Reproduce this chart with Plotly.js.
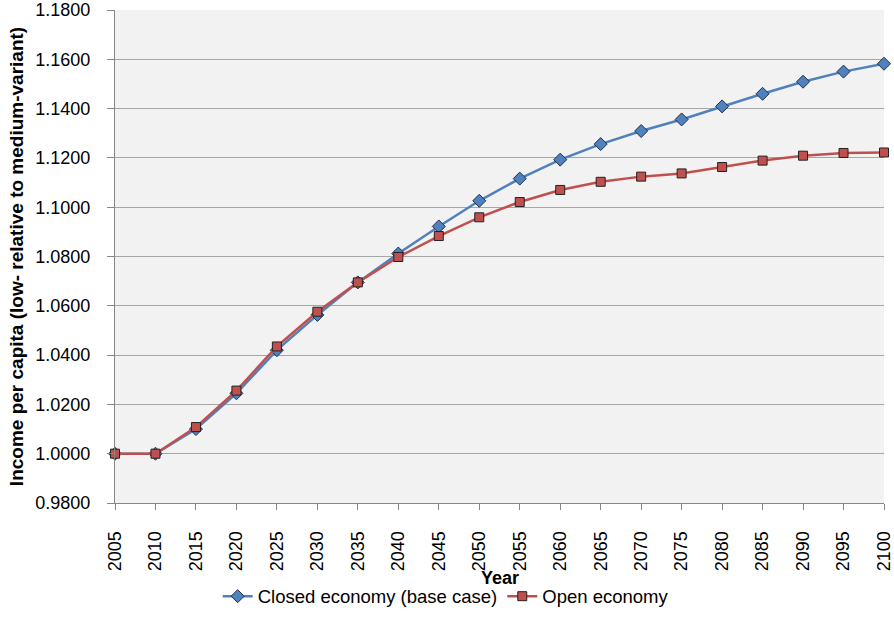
<!DOCTYPE html>
<html>
<head>
<meta charset="utf-8">
<script src="https://cdn.plot.ly/plotly-3.0.1.min.js"></script>
<style>html,body{margin:0;padding:0;background:#fff;}#chart{width:894px;height:638px;}</style>
</head>
<body>
<div id="chart"></div>
<script>
const years = [2005,2010,2015,2020,2025,2030,2035,2040,2045,2050,2055,2060,2065,2070,2075,2080,2085,2090,2095,2100];
const closedEconomy = [1.0000,1.0000,1.0100,1.0245,1.0420,1.0563,1.0695,1.0812,1.0922,1.1026,1.1116,1.1193,1.1256,1.1309,1.1356,1.1409,1.1460,1.1509,1.1550,1.1582];
const openEconomy = [1.0000,1.0000,1.0108,1.0256,1.0435,1.0576,1.0695,1.0798,1.0883,1.0959,1.1021,1.1070,1.1103,1.1124,1.1137,1.1163,1.1189,1.1209,1.1220,1.1222];
const yTicks = [0.98,1.00,1.02,1.04,1.06,1.08,1.10,1.12,1.14,1.16,1.18];

const font = "Liberation Sans, Arial, sans-serif";
const traces = [
  {x: years, y: closedEconomy, name: 'Closed economy (base case)', type: 'scatter', mode: 'lines+markers', cliponaxis: false,
   line: {color: '#4f81bd', width: 2.5}, marker: {symbol: 'diamond', size: 10, color: '#4f81bd', line: {color: '#1f2f4f', width: 1}}},
  {x: years, y: openEconomy, name: 'Open economy', type: 'scatter', mode: 'lines+markers', cliponaxis: false,
   line: {color: '#c0504d', width: 2.5}, marker: {symbol: 'square', size: 9, color: '#c0504d', line: {color: '#222', width: 1}}}
];
const layout = {
  width: 894, height: 638,
  margin: {l: 115, r: 10, t: 10, b: 135},
  paper_bgcolor: '#ffffff', plot_bgcolor: '#f2f2f2',
  showlegend: true,
  legend: {orientation: 'h', x: 0.43, xanchor: 'center', y: -0.19, yanchor: 'middle', font: {family: font, size: 18.5, color: '#000'}, traceorder: 'normal', itemwidth: 30},
  xaxis: {range: [2005, 2100], tickvals: years, ticktext: years.map(String), tickangle: -90,
    showgrid: false, zeroline: false, showline: true, linecolor: '#868686', linewidth: 1,
    ticks: 'outside', ticklen: 6, tickcolor: '#868686', ticklabelstandoff: 14, tickfont: {family: font, size: 18, color: '#000'}},
  yaxis: {range: [0.98, 1.18], tickvals: yTicks, tickformat: '.4f',
    showgrid: true, gridcolor: '#a6a6a6', gridwidth: 1, zeroline: false, showline: true, linecolor: '#868686', linewidth: 1,
    ticks: 'outside', ticklen: 7, tickcolor: '#868686', ticklabelstandoff: 13, tickfont: {family: font, size: 18, color: '#000'},
    title: {text: '<b>Income per capita (low- relative to medium-variant)</b>', font: {family: font, size: 19, color: '#000'}, standoff: 6}},
  annotations: [{text: '<b>Year</b>', xref: 'paper', yref: 'paper', x: 0.5, y: -0.152, xanchor: 'center', yanchor: 'middle',
    showarrow: false, font: {family: font, size: 18, color: '#000'}}]
};
Plotly.newPlot('chart', traces, layout, {displayModeBar: false});
</script>
</body>
</html>
